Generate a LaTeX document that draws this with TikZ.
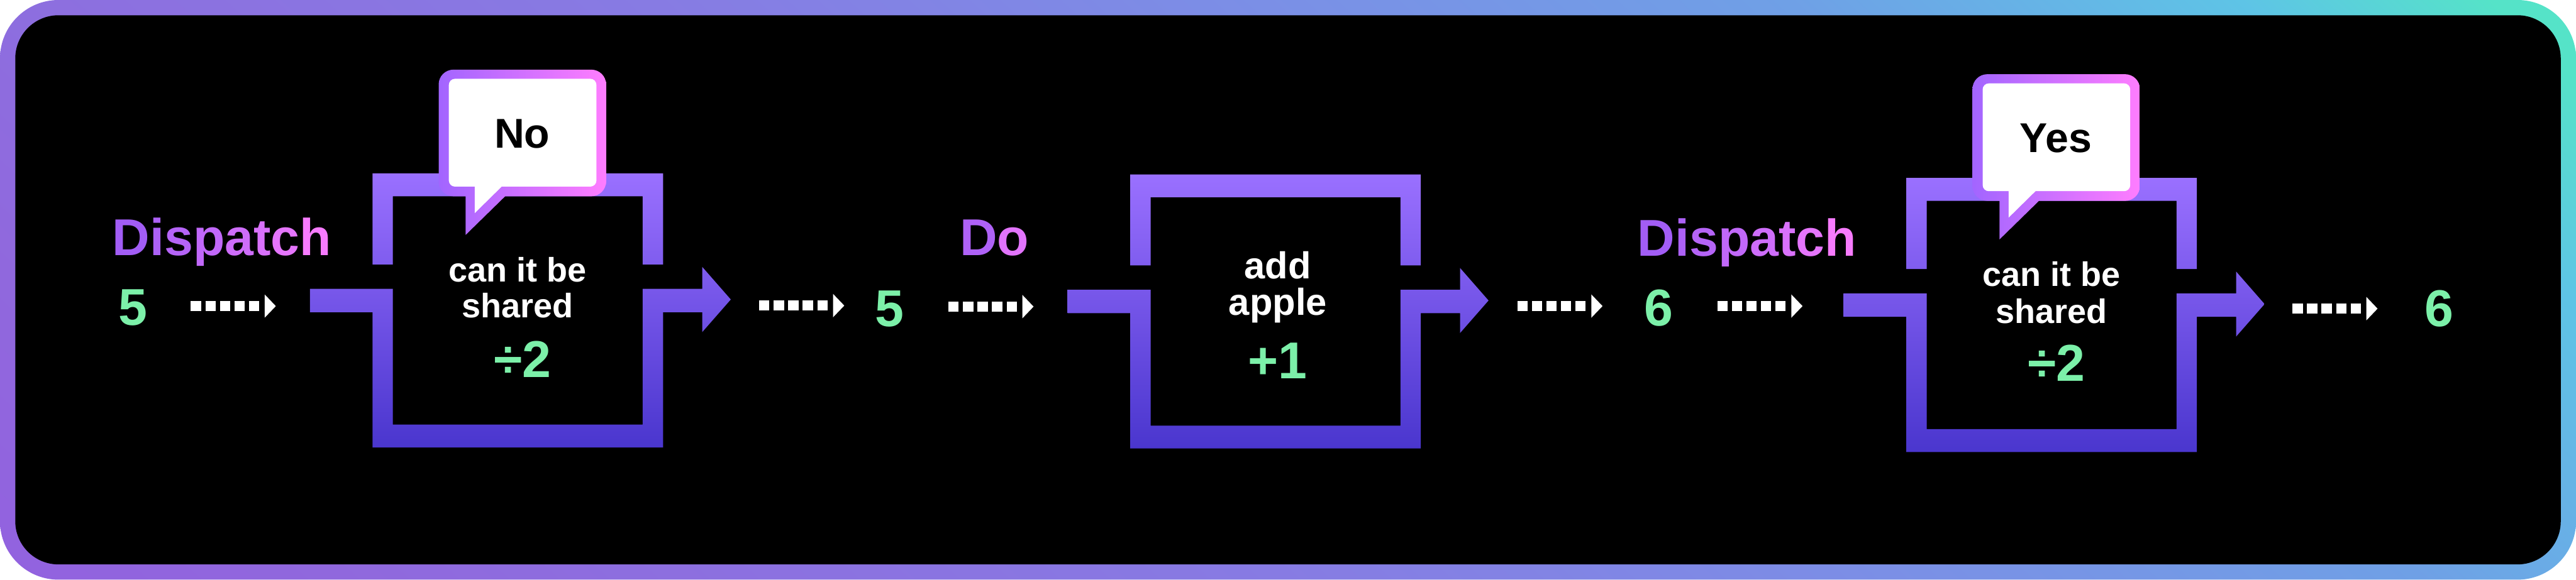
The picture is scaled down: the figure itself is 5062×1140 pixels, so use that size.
\documentclass[tikz,border=0pt]{standalone}
\usepackage{fontspec}
\setmainfont{Liberation Sans}
\newfontfamily\dispfont[LetterSpace=2.5]{Liberation Sans}
\usetikzlibrary{arrows.meta}
\definecolor{fc0}{RGB}{146,98,223}
\definecolor{fc1}{RGB}{144,104,221}
\definecolor{fc2}{RGB}{135,123,227}
\definecolor{fc3}{RGB}{123,143,230}
\definecolor{fc4}{RGB}{111,160,230}
\definecolor{fc5}{RGB}{94,196,230}
\definecolor{fc6}{RGB}{85,227,200}
\pgfdeclarehorizontalshading{framesh}{100bp}{color(0bp)=(fc0); color(29.6bp)=(fc0); color(33.7bp)=(fc1); color(45.9bp)=(fc2); color(53.7bp)=(fc3); color(60.5bp)=(fc4); color(66.3bp)=(fc5); color(69.5bp)=(fc6); color(100bp)=(fc6)}
\definecolor{boxtop}{RGB}{154,112,255}
\definecolor{boxbot}{RGB}{74,54,206}
\definecolor{bubl}{RGB}{162,101,255}
\definecolor{bubr}{RGB}{255,125,255}
\definecolor{numgreen}{RGB}{124,240,169}
\definecolor{dpurple}{RGB}{158,92,245}
\definecolor{dpink}{RGB}{255,126,255}
\colorlet{dg0}{dpink!4!dpurple}
\colorlet{dg1}{dpink!14!dpurple}
\colorlet{dg2}{dpink!24!dpurple}
\colorlet{dg3}{dpink!36!dpurple}
\colorlet{dg4}{dpink!49!dpurple}
\colorlet{dg5}{dpink!61!dpurple}
\colorlet{dg6}{dpink!73!dpurple}
\colorlet{dg7}{dpink!92!dpurple}
\newcommand\dispatchword{{\dispfont\bfseries\textcolor{dg0}{D}\textcolor{dg1}{i}\textcolor{dg2}{s}\textcolor{dg3}{p}\textcolor{dg4}{a}\textcolor{dg5}{t}\textcolor{dg6}{c}\textcolor{dg7}{h}}}
\newcommand\doword{\textcolor{dpink!18!dpurple}{D}\textcolor{dpink!70!dpurple}{o}}
\tikzset{
  lab/.style={inner sep=0pt, outer sep=0pt, font=\fontsize{29}{34}\selectfont\bfseries},
  num/.style={lab, text=numgreen},
  boxtxt/.style={inner sep=0pt, outer sep=0pt, text=white, font=\fontsize{19}{22}\selectfont\bfseries},
  addtxt/.style={inner sep=0pt, outer sep=0pt, text=white, font=\fontsize{21}{24}\selectfont\bfseries},
  optxt/.style={num, font=\fontsize{29}{34}\selectfont\bfseries},
  bubtxt/.style={inner sep=0pt, outer sep=0pt, text=black, font=\fontsize{23.3}{28}\selectfont\bfseries},
  dotarrow/.style={draw=white, line width=2mm,
    dash pattern=on 2mm off 0.85mm on 2mm off 0.85mm on 2mm off 0.85mm on 2mm off 0.85mm on 2mm off 6mm,
    -{Triangle[length=2.2mm, width=4.6mm, line width=0pt]}},
  procbox/.pic={
    \shade[top color=boxtop, bottom color=boxbot]
      (0,179) -- (0,0) -- (571,0) -- (571,179) -- (531,179) -- (531,45) -- (40,45) -- (40,179) -- cycle
      (-123,227) -- (40,227) -- (40,494) -- (531,494) -- (531,227) -- (648,227) -- (648,184)
      -- (704,248) -- (648,312) -- (648,273) -- (571,273) -- (571,539) -- (0,539) -- (0,273)
      -- (-123,273) -- cycle;
  },
  bubble/.pic={
    \shade[left color=bubl, right color=bubr]
      [rounded corners=2.9mm] (130,-204) -- (459,-204) -- (459,45) -- (130,45) -- cycle
      [sharp corners] (183,30) -- (276,30) -- (183,121) -- cycle;
    \fill[white]
      [rounded corners=1.2mm] (150,-186) -- (440,-186) -- (440,26) -- (150,26) -- cycle
      [sharp corners] (201,15) -- (265,15) -- (201,78) -- cycle;
  }
}
\begin{document}
\begin{tikzpicture}[x=0.1mm, y=-0.1mm]
\useasboundingbox (0,0) rectangle (5062,1140);
\fill[white] (0,0) rectangle (5062,1140);
% frame
\begin{scope}
  \clip[rounded corners=11.5mm] (0,0) rectangle (5062,1140);
  \shade[shading=framesh, shading angle=47.6] (-69,-2030) rectangle (5131,3170);
\end{scope}
\fill[black, rounded corners=8.5mm] (30,30) rectangle (5032,1110);

% boxes
\pic (box1) at (732,341) {procbox};
\pic (box2) at (2221,343) {procbox};
\pic (box3) at (3746,350) {procbox};
\pic (bub1) at (732,341) {bubble};
\pic (bub3) at (3746,350) {bubble};

% bubble texts
\node[bubtxt, anchor=base] (no) at (1026,291) {No};
\node[bubtxt, anchor=base] (yes) at (4040,300) {Yes};

% box texts
\node[boxtxt, anchor=base] (b1a) at (1017,554) {can it be};
\node[boxtxt, anchor=base] (b1b) at (1017,625) {shared};
\node[optxt, anchor=base] (b1op) at (1027,742) {÷2};
\node[addtxt, anchor=base] (b2a) at (2511,548) {add};
\node[addtxt, anchor=base] (b2b) at (2511,620) {apple};
\node[optxt, anchor=base] (b2op) at (2511,745) {+1};
\node[boxtxt, anchor=base] (b3a) at (4031,563) {can it be};
\node[boxtxt, anchor=base] (b3b) at (4031,636) {shared};
\node[optxt, anchor=base] (b3op) at (4041,750) {÷2};

% labels
\node[lab, anchor=base west] (disp1) at (221,502) {\dispatchword};
\node[num, anchor=base] (v1) at (261,640) {5};
\node[num, anchor=base] (v2) at (1748,642) {5};
\node[lab, anchor=base] (do) at (1954,502) {\doword};
\node[lab, anchor=base west] (disp2) at (3218,503) {\dispatchword};
\node[num, anchor=base] (v3) at (3260,641) {6};
\node[num, anchor=base] (v4) at (4793,642) {6};

% dotted connectors
\coordinate (a1s) at (375,602);  \coordinate (a1e) at (542,602);
\coordinate (a2s) at (1492,601); \coordinate (a2e) at (1659,601);
\coordinate (a3s) at (1864,603); \coordinate (a3e) at (2031,603);
\coordinate (a4s) at (2982,602); \coordinate (a4e) at (3149,602);
\coordinate (a5s) at (3375,602); \coordinate (a5e) at (3542,602);
\coordinate (a6s) at (4505,607); \coordinate (a6e) at (4672,607);
\draw[dotarrow] (a1s) -- (a1e);
\draw[dotarrow] (a2s) -- (a2e);
\draw[dotarrow] (a3s) -- (a3e);
\draw[dotarrow] (a4s) -- (a4e);
\draw[dotarrow] (a5s) -- (a5e);
\draw[dotarrow] (a6s) -- (a6e);
\end{tikzpicture}
\end{document}
